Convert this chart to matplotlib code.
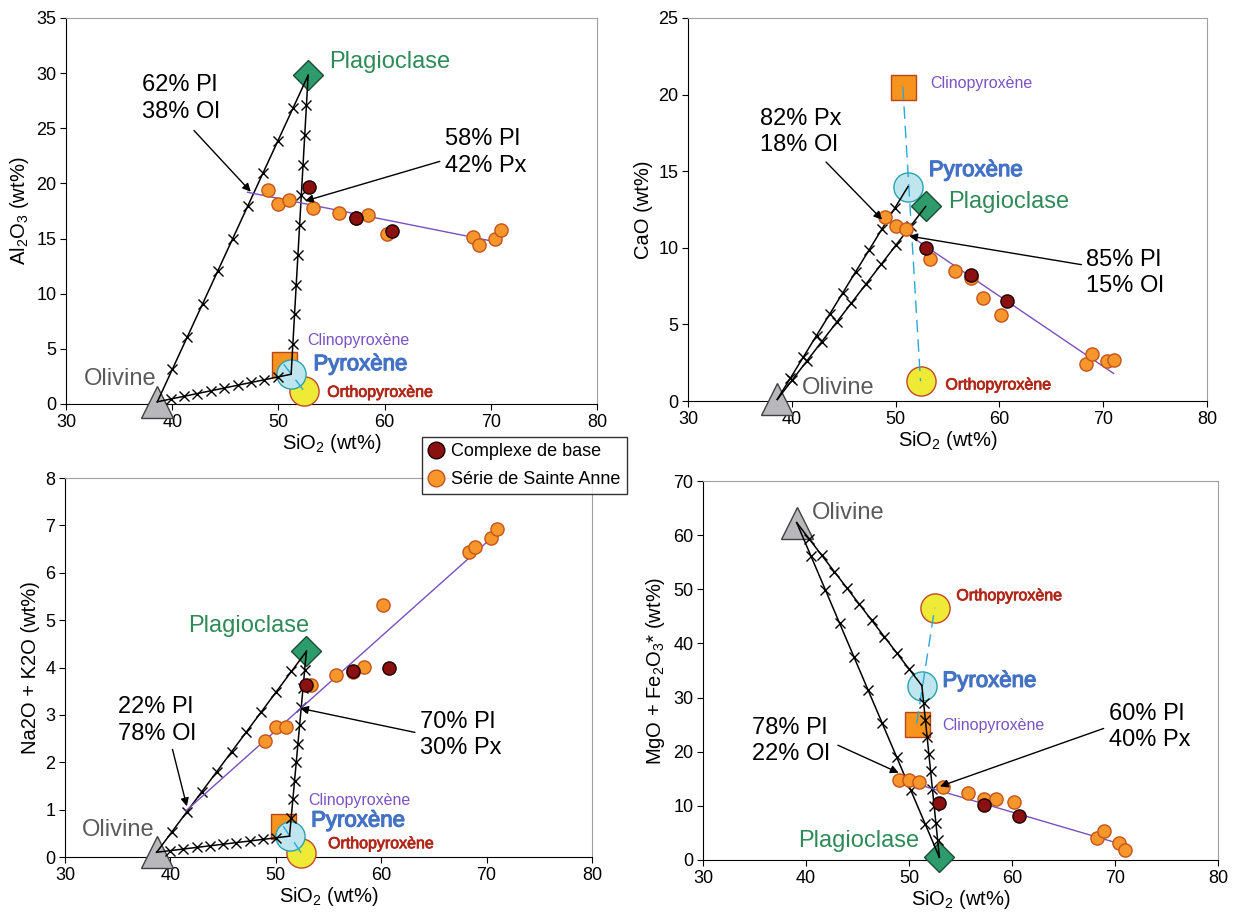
import numpy as np
import matplotlib
matplotlib.use('Agg')
import matplotlib.pyplot as plt
import matplotlib.patheffects as pe
from matplotlib.lines import Line2D

plt.rcParams['font.family'] = ['Liberation Sans', 'DejaVu Sans']
plt.rcParams['mathtext.fontset'] = 'custom'
plt.rcParams['mathtext.rm'] = 'Liberation Sans'
plt.rcParams['mathtext.default'] = 'regular'

# Serie de Sainte Anne (orange)
sio2_sa = [49.0, 50.0, 51.0, 53.3, 55.7, 57.3, 58.4, 60.2, 68.3, 68.9, 70.4, 71.0]
al2o3_sa = [19.4, 18.1, 18.5, 17.8, 17.3, 16.9, 17.1, 15.4, 15.1, 14.4, 15.0, 15.8]
cao_sa = [12.0, 11.4, 11.2, 9.3, 8.5, 8.0, 6.7, 5.6, 2.4, 3.1, 2.6, 2.7]
alk_sa = [2.45, 2.75, 2.75, 3.64, 3.85, 3.9, 4.02, 5.31, 6.44, 6.55, 6.74, 6.93]
mgfe_sa = [14.8, 14.7, 14.4, 13.5, 12.4, 11.3, 11.3, 10.8, 4.1, 5.3, 3.1, 1.9]

# Complexe de base (rouge fonce)
sio2_cb = [52.9, 57.3, 60.7]
al2o3_cb = [19.7, 16.9, 15.7]
cao_cb = [10.0, 8.2, 6.5]
alk_cb = [3.64, 3.92, 3.99]
mgfe_cb = [10.6, 10.1, 8.1]

# Poles mineraux (SiO2, oxyde) pour chaque diagramme
ol_xy = [(38.6, 0.2), (38.6, 0.1), (38.7, 0.1), (39.1, 62.3)]
pl_xy = [(52.8, 29.8), (52.9, 12.7), (52.9, 4.34), (52.95, 0.5)]
cpx_xy = [(50.5, 3.6), (50.7, 20.5), (50.7, 0.65), (50.75, 25.2)]
px_xy = [(51.2, 2.7), (51.2, 14.0), (51.3, 0.44), (51.25, 32.2)]
opx_xy = [(52.4, 1.2), (52.4, 1.3), (52.4, 0.09), (52.5, 46.6)]

# Proportions de melange (croix tous les 10 %)
mix_frac = [0.1, 0.2, 0.3, 0.4, 0.5, 0.6, 0.7, 0.8, 0.9]

# Droites de tendance
trend_x = [(47.1, 71.0), (49.2, 71.0), (41.5, 71.0), (49.0, 71.0)]
trend_y = [(19.2, 14.6), (11.8, 1.8), (0.98, 6.84), (15.0, 2.7)]

# Axes
y_labels = ['Al$_2$O$_3$ (wt%)', 'CaO (wt%)', 'Na2O + K2O (wt%)',
            'MgO + Fe$_2$O$_3$* (wt%)']
y_max = [35, 25, 8, 70]
y_step = [5, 5, 1, 10]
y_sa = [al2o3_sa, cao_sa, alk_sa, mgfe_sa]
y_cb = [al2o3_cb, cao_cb, alk_cb, mgfe_cb]

# Lignes de melange
tie_lines = [[('ol', 'pl'), ('ol', 'px'), ('px', 'pl')],
             [('ol', 'px'), ('ol', 'pl')],
             [('ol', 'pl'), ('ol', 'px'), ('px', 'pl')],
             [('ol', 'pl'), ('ol', 'px'), ('px', 'pl')]]

# Annotations: texte, position du texte, queue et pointe de la fleche
notes = [
    [('62% Pl\n38% Ol', (37.2, 27.7), (42.05, 24.8), (47.4, 19.25)),
     ('58% Pl\n42% Px', (65.7, 22.8), (65.2, 22.0), (52.5, 18.4))],
    [('82% Px\n18% Ol', (36.9, 17.55), (43.3, 15.6), (48.7, 11.84)),
     ('85% Pl\n15% Ol', (68.3, 8.34), (67.9, 8.9), (51.3, 10.77))],
    [('22% Pl\n78% Ol', (35.0, 2.88), (40.2, 2.27), (41.56, 1.07)),
     ('70% Pl\n30% Px', (63.7, 2.575), (63.2, 2.63), (52.3, 3.14))],
    [('78% Pl\n22% Ol', (34.74, 22.0), (43.1, 21.2), (49.0, 16.1)),
     ('60% Pl\n40% Px', (69.45, 24.6), (68.9, 24.3), (53.0, 13.6))],
]

# Etiquettes des mineraux
label_pos = [
    {'Plagioclase': (54.8, 31.0), 'Olivine': (31.7, 2.27), 'Clinopyroxène': (52.7, 5.74),
     'Pyroxène': (53.3, 3.57), 'Orthopyroxène': (54.6, 1.06)},
    {'Plagioclase': (55.06, 12.96), 'Olivine': (41.0, 0.88), 'Clinopyroxène': (53.35, 20.7),
     'Pyroxène': (53.2, 15.04), 'Orthopyroxène': (54.8, 1.05)},
    {'Plagioclase': (41.64, 4.88), 'Olivine': (31.6, 0.58), 'Clinopyroxène': (53.1, 1.2),
     'Pyroxène': (53.35, 0.76), 'Orthopyroxène': (54.96, 0.28)},
    {'Plagioclase': (39.2, 3.6), 'Olivine': (40.6, 64.0), 'Clinopyroxène': (53.25, 24.75),
     'Pyroxène': (53.25, 33.0), 'Orthopyroxène': (54.6, 48.8)},
]
label_style = {
    'Plagioclase': dict(color='#2e8b57', fontsize=17),
    'Olivine': dict(color='#5a5a5a', fontsize=17),
    'Clinopyroxène': dict(color='#7a52c4', fontsize=11.5),
    'Pyroxène': dict(color='#4472c4', fontsize=16,
                     path_effects=[pe.withStroke(linewidth=0.9, foreground='#4472c4')]),
    'Orthopyroxène': dict(color='#b0281a', fontsize=11.5,
                          path_effects=[pe.withStroke(linewidth=0.6, foreground='#b0281a')]),
}

axes_pos = [[66, 18, 597, 404], [688, 18, 1207, 401],
            [65, 478, 592, 857], [703, 481, 1218, 860]]

W, H = 1235, 916
fig = plt.figure(figsize=(W / 100, H / 100), dpi=100)


def mixing(a, b):
    a = np.array(a)
    b = np.array(b)
    f = np.array(mix_frac)[:, None]
    return a + f * (b - a)


for i in range(4):
    l, t, r, b = axes_pos[i]
    ax = fig.add_axes([l / W, 1 - b / H, (r - l) / W, (b - t) / H])
    ax.set_xlim(30, 80)
    ax.set_ylim(0, y_max[i])
    ax.set_xticks(range(30, 81, 10))
    ax.set_yticks(np.arange(0, y_max[i] + 0.1, y_step[i]))
    ax.tick_params(direction='out', length=4, labelsize=13, pad=3)
    for s in ['top', 'right']:
        ax.spines[s].set_color('#a0a0a0')
    ax.set_xlabel('SiO$_2$ (wt%)', fontsize=14.5, labelpad=1)
    ax.set_ylabel(y_labels[i], fontsize=14.5, labelpad=4)

    poles = {'ol': ol_xy[i], 'pl': pl_xy[i], 'cpx': cpx_xy[i],
             'px': px_xy[i], 'opx': opx_xy[i]}

    # Poles mineraux
    ax.plot(*poles['cpx'], 's', ms=18, mfc='#f7941d', mec='#b5471f', mew=1, clip_on=False, zorder=3)
    ax.plot(*poles['opx'], 'o', ms=21, mfc='#eeea35', mec='#c0482a', mew=1, clip_on=False, zorder=3)
    ax.plot(*poles['px'], 'o', ms=21, mfc='#bfe6ee', mec='#2aa3ad', mew=1, clip_on=False, zorder=3)
    ax.plot(*poles['ol'], '^', ms=23, mfc='#b8b8bc', mec='#404040', mew=1, clip_on=False, zorder=3)
    ax.plot(*poles['pl'], 'D', ms=15, mfc='#2e9b6c', mec='#1b4d35', mew=1, clip_on=False, zorder=3)

    # Ligne cpx - opx
    ax.plot([poles['cpx'][0], poles['opx'][0]], [poles['cpx'][1], poles['opx'][1]],
            color='#29a8d8', lw=1, dashes=(9, 5), zorder=4)

    # Lignes de melange avec croix
    for p1, p2 in tie_lines[i]:
        a, bb = poles[p1], poles[p2]
        ax.plot([a[0], bb[0]], [a[1], bb[1]], color='k', lw=1.1, zorder=4)
        pts = mixing(a, bb)
        ax.plot(pts[:, 0], pts[:, 1], 'x', color='k', ms=7, mew=1, zorder=4)

    # Echantillons
    ax.plot(trend_x[i], trend_y[i], color='#7a4fc0', lw=1, zorder=5)
    ax.plot(sio2_sa, y_sa[i], 'o', ms=9.5, mfc='#f7962b', mec='#c4541c', mew=1, zorder=6)
    ax.plot(sio2_cb, y_cb[i], 'o', ms=9.5, mfc='#8b1010', mec='#1a0000', mew=1, zorder=6)

    # Etiquettes
    for name, (x, y) in label_pos[i].items():
        ax.text(x, y, name, ha='left', va='center', zorder=7, **label_style[name])

    # Annotations
    for txt, txy, tail, head in notes[i]:
        ax.text(txy[0], txy[1], txt, fontsize=17, ha='left', va='center',
                linespacing=1.25, zorder=7)
        ax.annotate('', xy=head, xytext=tail, zorder=7,
                    arrowprops=dict(arrowstyle='-|>', color='k', lw=1,
                                    mutation_scale=12, shrinkA=0, shrinkB=0))

# Legende
handles = [Line2D([], [], ls='none', marker='o', ms=12, mfc='#8b1010', mec='#1a0000'),
           Line2D([], [], ls='none', marker='o', ms=12, mfc='#f7962b', mec='#c4541c')]
leg = fig.legend(handles, ['Complexe de base', 'Série de Sainte Anne'],
                 loc='upper left', bbox_to_anchor=(422 / W, 1 - 437 / H),
                 fontsize=13, frameon=True, fancybox=False, borderaxespad=0,
                 handlelength=0.8, handletextpad=0.45, borderpad=0.35, labelspacing=0.6)
leg.get_frame().set_edgecolor('black')
leg.get_frame().set_linewidth(1)

fig.savefig('out.png', dpi=100)
